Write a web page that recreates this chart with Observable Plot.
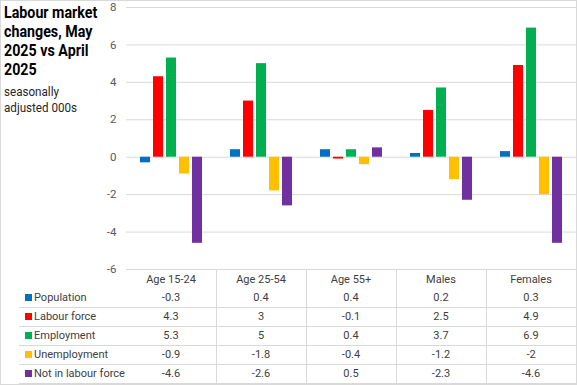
<!DOCTYPE html>
<html><head><meta charset="utf-8">
<script src="https://cdn.jsdelivr.net/npm/d3@7"></script>
<script src="https://cdn.jsdelivr.net/npm/@observablehq/plot@0.6"></script>
<style>
html,body{margin:0;padding:0;background:#fff;}
#wrap{position:relative;width:577px;height:385px;overflow:hidden;font-family:Roboto,"Liberation Sans",sans-serif;}
#border{position:absolute;left:0;top:0;width:577px;height:385px;box-sizing:border-box;border:1px solid #d9d9d9;pointer-events:none;}
#title{position:absolute;left:4px;top:3px;white-space:nowrap;}
#title .t{font-weight:700;font-size:16.2px;line-height:19px;color:#000;transform:scaleX(0.88);transform-origin:0 0;}
#title .s{font-size:12.5px;line-height:16px;color:#262626;margin-top:5px;transform:scaleX(0.93);transform-origin:0 0;}
#chart{position:absolute;left:0;top:0;}
.cell{position:absolute;font-size:11px;color:#404040;text-align:center;white-space:nowrap;}
.hl{position:absolute;height:1px;background:#d9d9d9;}
.vl{position:absolute;width:1px;background:#d9d9d9;}
.sw{position:absolute;width:7px;height:7px;}
</style></head>
<body>
<div id="wrap">
  <div id="chart"></div>
  <div id="title">
    <div class="t">Labour market<br>changes, May<br>2025 vs April<br>2025</div>
    <div class="s">seasonally<br>adjusted 000s</div>
  </div>
  <div id="table"></div>
  <div id="border"></div>
</div>
<script>
const categories = ["Age 15-24", "Age 25-54", "Age 55+", "Males", "Females"];
const seriesNames = ["Population", "Labour force", "Employment", "Unemployment", "Not in labour force"];
const population = [-0.3, 0.4, 0.4, 0.2, 0.3];
const labourForce = [4.3, 3, -0.1, 2.5, 4.9];
const employment = [5.3, 5, 0.4, 3.7, 6.9];
const unemployment = [-0.9, -1.8, -0.4, -1.2, -2];
const notInLabourForce = [-4.6, -2.6, 0.5, -2.3, -4.6];
const seriesColors = ["#0070C0", "#FF0000", "#00B050", "#FFC000", "#7030A0"];
const yTicks = [-6, -4, -2, 0, 2, 4, 6, 8];

const seriesValues = [population, labourForce, employment, unemployment, notInLabourForce];
const data = [];
categories.forEach((c, i) => {
  seriesNames.forEach((s, j) => data.push({category: c, series: s, value: seriesValues[j][i]}));
});

const W = 577, plotLeft = 126, plotRight = 576, plotTop = 7, plotBottom = 269;

const chart = Plot.plot({
  width: W,
  height: plotBottom + 10,
  marginLeft: plotLeft,
  marginRight: W - plotRight,
  marginTop: plotTop,
  marginBottom: 10,
  style: {fontFamily: "Roboto, 'Liberation Sans', sans-serif", fontSize: "11px", background: "transparent", overflow: "visible"},
  fx: {domain: categories, padding: 0, axis: null},
  x: {domain: seriesNames, paddingInner: 0.2, paddingOuter: 0.885, axis: null},
  y: {domain: [-6, 8], axis: null},
  color: {domain: seriesNames, range: seriesColors},
  marks: [
    Plot.gridY(yTicks, {stroke: "#d9d9d9", strokeOpacity: 1}),
    Plot.axisY(yTicks, {label: null, tickSize: 0, tickPadding: 10, color: "#595959", fontSize: 11.5, tickFormat: d => d < 0 ? "-" + Math.abs(d) : String(d)}),
    Plot.barY(data, {fx: "category", x: "series", y: "value", fill: "series"})
  ]
});
document.getElementById("chart").appendChild(chart);

// data table below the chart
const table = d3.select("#table");
const colW = (plotRight - plotLeft) / categories.length;
const headTop = plotBottom, headH = 19, rowH = 19, tableLeft = 19;
const rowsTop = headTop + headH;
categories.forEach((c, i) => {
  table.append("div").attr("class", "cell")
    .style("left", (plotLeft + i * colW) + "px").style("width", colW + "px")
    .style("top", (headTop + 2) + "px").style("line-height", "17px")
    .text(c);
});
seriesNames.forEach((s, j) => {
  const top = rowsTop + j * rowH;
  table.append("div").attr("class", "sw")
    .style("left", "25px").style("top", (top + 6) + "px").style("background", seriesColors[j]);
  table.append("div").attr("class", "cell")
    .style("left", "34px").style("text-align", "left")
    .style("top", top + "px").style("line-height", rowH + "px")
    .text(s);
  categories.forEach((c, i) => {
    const v = seriesValues[j][i];
    table.append("div").attr("class", "cell")
      .style("left", (plotLeft + i * colW) + "px").style("width", colW + "px")
      .style("top", top + "px").style("line-height", rowH + "px")
      .text(v < 0 ? "-" + Math.abs(v) : String(v));
  });
  table.append("div").attr("class", "hl")
    .style("left", tableLeft + "px").style("width", (plotRight - tableLeft) + "px")
    .style("top", (top + rowH) + "px");
});
for (let i = 1; i <= categories.length; i++) {
  table.append("div").attr("class", "vl")
    .style("left", Math.round(plotLeft + i * colW) + "px")
    .style("top", headTop + "px").style("height", (rowsTop + seriesNames.length * rowH - headTop) + "px");
}
</script>
</body></html>
